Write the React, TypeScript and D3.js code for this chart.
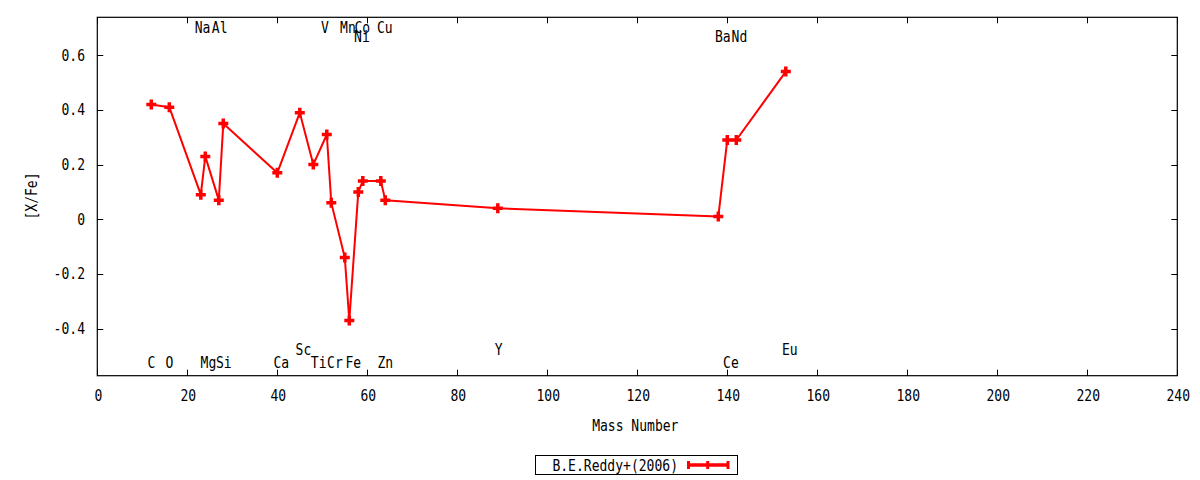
import { useEffect, useRef } from 'react';
import * as d3 from 'd3';

// Reddy et al. (2006) abundances [X/Fe] against mass number
const elements = ['C', 'O', 'Na', 'Mg', 'Al', 'Si', 'Ca', 'Sc', 'Ti', 'V', 'Cr', 'Mn', 'Fe', 'Ni', 'Co', 'Cu', 'Zn', 'Y', 'Ba', 'Ce', 'Nd', 'Eu'];
const massNumbers = [12, 16, 23, 24, 27, 28, 40, 45, 48, 51, 52, 55, 56, 58, 59, 63, 64, 89, 138, 140, 142, 153];
const xFe = [0.42, 0.41, 0.09, 0.23, 0.07, 0.35, 0.17, 0.39, 0.2, 0.31, 0.06, -0.14, -0.37, 0.1, 0.14, 0.14, 0.07, 0.04, 0.01, 0.29, 0.29, 0.54];

// element label anchors (data coordinates, as placed in the original plot)
const labelX = [12, 16, 23.4, 24.7, 27.2, 28.1, 40.9, 45.8, 49.2, 50.6, 52.8, 55.7, 56.9, 58.8, 58.9, 63.9, 64, 89.2, 139, 140.8, 142.7, 153.9];
const labelY = [-0.525, -0.525, 0.7, -0.525, 0.7, -0.525, -0.525, -0.478, -0.525, 0.7, -0.525, 0.7, -0.525, 0.667, 0.7, 0.7, -0.525, -0.478, 0.667, -0.525, 0.667, -0.478];

const xTicks = [0, 20, 40, 60, 80, 100, 120, 140, 160, 180, 200, 220, 240];
const yTicks = [-0.4, -0.2, 0, 0.2, 0.4, 0.6];
const xDomain: [number, number] = [0, 240];
const yDomain: [number, number] = [-0.572, 0.7386];

const seriesName = 'B.E.Reddy+(2006)';
const xTitle = 'Mass Number';
const yTitle = '[X/Fe]';

const FONT = "'DejaVu Sans Mono', monospace";
const CHAR_W = 7.85;

export default function App() {
  const svgRef = useRef<SVGSVGElement>(null);

  useEffect(() => {
    if (!svgRef.current) return;
    const svg = d3.select(svgRef.current);
    svg.selectAll('*').remove();

    const left = 97.3;
    const right = 1177.3;
    const top = 17.3;
    const bottom = 375.7;
    const red = '#ff0000';

    const x = d3.scaleLinear().domain(xDomain).range([left, right]);
    const y = d3.scaleLinear().domain(yDomain).range([bottom, top]);

    // gnuplot-ish narrow mono text
    const text = (sel: any, tx: number, ty: number, s: string, anchor: string) =>
      sel
        .append('text')
        .attr('x', tx)
        .attr('y', ty)
        .attr('text-anchor', anchor)
        .attr('dominant-baseline', 'central')
        .attr('font-family', FONT)
        .attr('font-size', 16)
        .attr('textLength', s.length * CHAR_W)
        .attr('lengthAdjust', 'spacingAndGlyphs')
        .attr('fill', '#000')
        .text(s);

    // ticks, mirrored on all four sides
    const ticks = svg.append('g').attr('stroke', '#000').attr('stroke-width', 1);
    xTicks.forEach((t) => {
      const px = Math.round(x(t)) + 0.5;
      ticks.append('line').attr('x1', px).attr('x2', px).attr('y1', bottom).attr('y2', bottom - 6);
      ticks.append('line').attr('x1', px).attr('x2', px).attr('y1', top).attr('y2', top + 6);
      text(svg, x(t) + 1, 395, String(t), 'middle');
    });
    yTicks.forEach((t) => {
      const py = Math.round(y(t)) + 0.5;
      ticks.append('line').attr('x1', left).attr('x2', left + 6).attr('y1', py).attr('y2', py);
      ticks.append('line').attr('x1', right).attr('x2', right - 6).attr('y1', py).attr('y2', py);
      text(svg, 85, y(t), d3.format('')(t).replace('−', '-'), 'end');
    });

    svg
      .append('rect')
      .attr('x', left)
      .attr('y', top)
      .attr('width', right - left)
      .attr('height', bottom - top)
      .attr('fill', 'none')
      .attr('stroke', '#000')
      .attr('stroke-width', 1.2);

    // axis titles
    text(svg, (left + right) / 2 - 2, 425, xTitle, 'middle');
    text(svg, 0, 0, yTitle, 'middle').attr('transform', 'translate(31,196) rotate(-90)');

    // element labels
    elements.forEach((el, i) => {
      text(svg, x(labelX[i]), y(labelY[i]), el, 'middle');
    });

    // series line
    const pts = massNumbers.map((m, i) => [m, xFe[i]] as [number, number]);
    const line = d3
      .line<[number, number]>()
      .x((d) => x(d[0]))
      .y((d) => y(d[1]));
    svg
      .append('path')
      .attr('d', line(pts))
      .attr('fill', 'none')
      .attr('stroke', red)
      .attr('stroke-width', 2)
      .attr('stroke-linejoin', 'round');

    const plus = (cx: number, cy: number, r: number) => `M${cx - r},${cy}H${cx + r}M${cx},${cy - r}V${cy + r}`;
    svg
      .append('g')
      .selectAll('path')
      .data(pts)
      .enter()
      .append('path')
      .attr('d', (d) => plus(x(d[0]), y(d[1]), 5))
      .attr('stroke', red)
      .attr('stroke-width', 3.5)
      .attr('fill', 'none');

    // legend
    const lg = svg.append('g');
    lg.append('rect')
      .attr('x', 535.5)
      .attr('y', 455.5)
      .attr('width', 202)
      .attr('height', 19)
      .attr('fill', 'none')
      .attr('stroke', '#000')
      .attr('stroke-width', 1);
    text(lg, 678, 465, seriesName, 'end');
    lg.append('line').attr('x1', 687).attr('x2', 729).attr('y1', 465).attr('y2', 465).attr('stroke', red).attr('stroke-width', 3.5);
    [688.5, 707.7, 728].forEach((lx) => {
      lg.append('line')
        .attr('x1', lx)
        .attr('x2', lx)
        .attr('y1', 461)
        .attr('y2', 469)
        .attr('stroke', red)
        .attr('stroke-width', 3);
    });
  }, []);

  return (
    <svg
      ref={svgRef}
      width={1200}
      height={480}
      style={{ position: 'absolute', left: 0, top: 0, background: '#fff' }}
    />
  );
}
